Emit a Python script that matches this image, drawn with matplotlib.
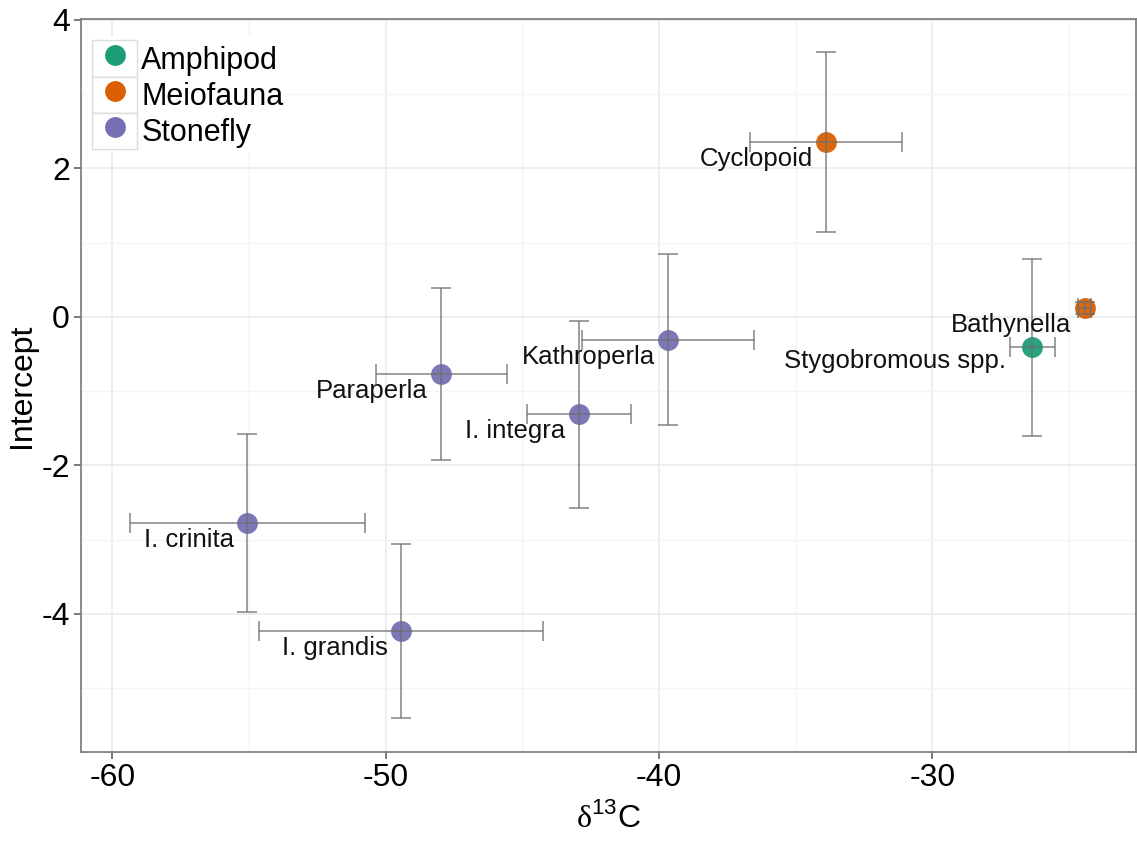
import numpy as np
import matplotlib
matplotlib.use("Agg")
import matplotlib.pyplot as plt
from matplotlib.lines import Line2D
from matplotlib.patches import Patch
from matplotlib.legend_handler import HandlerTuple

plt.rcParams['font.family'] = ['Liberation Sans', 'DejaVu Sans']
plt.rcParams['mathtext.fontset'] = 'custom'
plt.rcParams['mathtext.rm'] = 'Liberation Serif'
plt.rcParams['mathtext.sf'] = 'Liberation Sans'
plt.rcParams['axes.unicode_minus'] = False

# taxa
taxa = ["I. crinita", "I. grandis", "Paraperla", "I. integra", "Kathroperla",
        "Cyclopoid", "Stygobromous spp.", "Bathynella"]
group = ["Stonefly", "Stonefly", "Stonefly", "Stonefly", "Stonefly",
         "Meiofauna", "Amphipod", "Meiofauna"]
d13c = [-55.06, -49.43, -47.97, -42.94, -39.68, -33.89, -26.34, -24.43]
d13c_se = [4.3, 5.2, 2.4, 1.9, 3.15, 2.78, 0.83, 0.25]
intercept = [-2.78, -4.23, -0.77, -1.31, -0.31, 2.35, -0.41, 0.12]
intercept_se = [1.2, 1.17, 1.16, 1.26, 1.15, 1.21, 1.19, 0.08]

groups = ["Amphipod", "Meiofauna", "Stonefly"]
colors = {"Amphipod": "#1B9E77", "Meiofauna": "#D95F02", "Stonefly": "#7570B3"}

# label offsets in points (right/top aligned text)
label_offset = {"Stygobromous spp.": (-19, -1)}

fig = plt.figure(figsize=(11.37, 8.41), dpi=100)
ax = fig.add_axes([81 / 1137, 1 - 752 / 841, 1055 / 1137, (752 - 19) / 841])

for i, name in enumerate(taxa):
    ax.plot(d13c[i], intercept[i], 'o', ms=15, color=colors[group[i]],
            mec='none', alpha=0.95, zorder=3)
    ax.errorbar(d13c[i], intercept[i], xerr=d13c_se[i], yerr=intercept_se[i],
                fmt='none', ecolor='#6e6e6e', elinewidth=1.1, capsize=7.5,
                capthick=1.1, alpha=0.85, zorder=4)
    off = label_offset.get(name, (-9.5, -3.5))
    ax.annotate(name, (d13c[i], intercept[i]), xytext=off,
                textcoords='offset points', ha='right', va='top',
                fontsize=18.5, color='#111111', zorder=5)

ax.set_xlim(-61.15, -22.55)
ax.set_ylim(-5.86, 4.01)
ax.set_xticks([-60, -50, -40, -30])
ax.set_yticks([-4, -2, 0, 2, 4])
ax.set_xticks([-55, -45, -35, -25], minor=True)
ax.set_yticks([-5, -3, -1, 1, 3], minor=True)
ax.grid(which='major', color='#ebebeb', lw=1.2, zorder=0)
ax.grid(which='minor', color='#f4f4f4', lw=1.0, zorder=0)
ax.set_axisbelow(True)
ax.tick_params(which='major', labelsize=23, length=5, width=1.1,
               color='#555555', pad=3)
ax.tick_params(which='minor', length=0)
for s in ax.spines.values():
    s.set_color('#808080')
    s.set_linewidth(1.3)

ax.set_xlabel(r'$\mathrm{\delta}^{\mathsf{13}}$C', fontsize=23)
ax.xaxis.set_label_coords(0.5, -0.068)
ax.set_ylabel('Intercept', fontsize=23)
ax.yaxis.set_label_coords(-0.042, 0.5)

handles = [(Patch(facecolor='white', edgecolor='#dddddd', lw=1.0),
            Line2D([], [], marker='o', ls='none', ms=15, color=colors[g], mec='none'))
           for g in groups]
leg = ax.legend(handles, groups, loc='upper left', bbox_to_anchor=(0.008, 0.975),
                handler_map={tuple: HandlerTuple(ndivide=1, pad=0)},
                fontsize=22, frameon=True, handlelength=1.45, handleheight=1.45,
                handletextpad=0.15, labelspacing=0.0, borderpad=0.1,
                borderaxespad=0.0)
leg.get_frame().set_edgecolor('none')
leg.get_frame().set_facecolor('white')
leg.get_frame().set_alpha(1)

fig.savefig('out.png', dpi=100)
